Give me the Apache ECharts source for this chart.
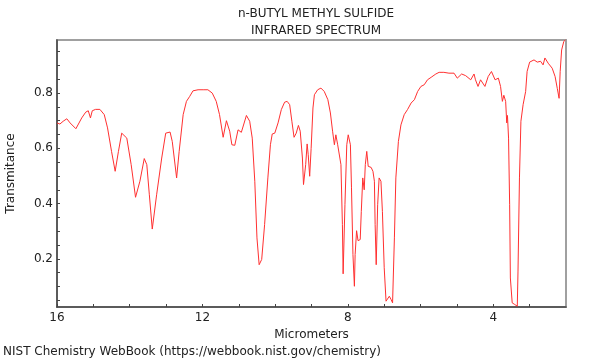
<!DOCTYPE html>
<html>
<head>
<meta charset="utf-8">
<script src="https://cdn.jsdelivr.net/npm/echarts@6/dist/echarts.min.js"></script>
<style>html,body{margin:0;padding:0;background:#fff}#c{width:600px;height:360px}</style>
</head>
<body>
<div id="c"></div>
<script>
const titleLines = ['n-BUTYL METHYL SULFIDE', 'INFRARED SPECTRUM'];
const xName = 'Micrometers';
const yName = 'Transmitance';
const footer = 'NIST Chemistry WebBook (https://webbook.nist.gov/chemistry)';

const xLabelValues = [16, 12, 8, 4];
const xTickValues = [3, 4, 5, 6, 7, 8, 9, 10, 11, 12, 13, 14, 15, 16];
const yLabelValues = [0.2, 0.4, 0.6, 0.8];
const yTickValues = [0.05, 0.1, 0.15, 0.2, 0.25, 0.3, 0.35, 0.4, 0.45, 0.5, 0.55, 0.6, 0.65, 0.7, 0.75, 0.8, 0.85, 0.9, 0.95];

const wavelength = [
16.00,15.92,15.83,15.73,15.64,15.48,15.32,15.21,15.14,15.08,15.03,14.94,14.82,14.70,14.61,14.50,14.40,14.31,14.22,14.18,
14.08,13.96,13.84,13.72,13.60,13.53,13.46,13.38,13.26,13.12,13.01,12.89,12.83,12.71,12.64,12.53,12.44,12.35,12.26,12.12,
11.98,11.85,11.73,11.62,11.53,11.43,11.34,11.30,11.25,11.19,11.11,11.02,10.93,10.79,10.70,10.63,10.56,10.50,10.44,10.37,
10.29,10.20,10.13,10.08,10.01,9.92,9.83,9.74,9.67,9.60,9.54,9.48,9.42,9.36,9.31,9.25,9.22,9.16,9.12,9.09,
9.05,9.01,8.96,8.92,8.83,8.74,8.65,8.55,8.48,8.42,8.37,8.33,8.28,8.23,8.19,8.15,8.13,8.08,8.03,7.99,
7.93,7.90,7.86,7.82,7.80,7.76,7.72,7.66,7.63,7.59,7.55,7.52,7.48,7.44,7.36,7.31,7.27,7.25,7.22,7.18,
7.14,7.09,7.05,7.00,6.95,6.91,6.86,6.81,6.77,6.72,6.68,6.61,6.54,6.45,6.36,6.26,6.17,6.08,5.99,5.90,
5.81,5.71,5.58,5.49,5.36,5.22,5.08,4.99,4.87,4.76,4.62,4.53,4.49,4.42,4.35,4.23,4.14,4.05,3.95,3.86,
3.80,3.75,3.71,3.66,3.63,3.61,3.58,3.55,3.53,3.48,3.41,3.34,3.32,3.28,3.24,3.18,3.11,3.07,3.00,2.88,
2.79,2.70,2.63,2.58,2.49,2.38,2.30,2.24,2.19,2.16,2.12,2.06,2.01
];
const transmittance = [
0.692,0.688,0.698,0.707,0.692,0.671,0.710,0.731,0.736,0.710,0.736,0.741,0.741,0.722,0.674,0.589,0.517,0.589,0.655,0.662,
0.637,0.541,0.423,0.481,0.563,0.541,0.432,0.308,0.432,0.565,0.655,0.659,0.625,0.493,0.589,0.722,0.770,0.788,0.808,0.812,
0.812,0.812,0.800,0.770,0.722,0.640,0.700,0.698,0.662,0.613,0.611,0.667,0.658,0.719,0.698,0.637,0.481,0.276,0.179,0.198,
0.324,0.493,0.613,0.652,0.655,0.692,0.740,0.767,0.770,0.758,0.698,0.640,0.655,0.683,0.662,0.565,0.469,0.541,0.616,0.577,
0.499,0.600,0.746,0.794,0.812,0.818,0.806,0.776,0.728,0.662,0.613,0.649,0.613,0.613,0.541,0.324,0.146,0.396,0.613,0.649,
0.613,0.457,0.216,0.101,0.216,0.302,0.266,0.270,0.372,0.493,0.450,0.541,0.589,0.535,0.531,0.517,0.481,0.324,0.179,0.396,
0.493,0.481,0.372,0.168,0.047,0.047,0.065,0.053,0.041,0.276,0.493,0.625,0.685,0.722,0.740,0.764,0.776,0.806,0.824,0.830,
0.848,0.857,0.869,0.875,0.875,0.872,0.872,0.854,0.869,0.863,0.848,0.869,0.848,0.824,0.848,0.824,0.860,0.878,0.848,0.854,
0.824,0.770,0.792,0.770,0.692,0.719,0.637,0.396,0.131,0.041,0.035,0.029,0.156,0.493,0.698,0.758,0.806,0.878,0.912,0.920,
0.912,0.915,0.902,0.927,0.908,0.890,0.860,0.817,0.781,0.878,0.956,0.987,0.993
];

const FONT = 'DejaVu Sans';
const chart = echarts.init(document.getElementById('c'), null, {renderer: 'canvas'});
chart.setOption({
  animation: false,
  backgroundColor: '#fff',
  textStyle: {fontFamily: FONT},
  title: {
    text: titleLines.join('\n'),
    left: 311, textAlign: 'center', top: 0,
    textStyle: {fontFamily: FONT, fontSize: 12, fontWeight: 'normal', color: '#222', lineHeight: 17}
  },
  grid: {left: 57, right: 34, top: 40, bottom: 53, outerBoundsMode: 'none', containLabel: false,
    show: true, borderColor: '#a0a0a0', borderWidth: 2, backgroundColor: 'transparent'},
  xAxis: {
    type: 'value', inverse: true, min: 2, max: 16,
    name: xName, nameLocation: 'middle', nameGap: 17,
    nameTextStyle: {fontFamily: FONT, fontSize: 12, color: '#222'},
    axisLine: {show: true, onZero: false, lineStyle: {color: '#444', width: 1.5}},
    axisTick: {show: true, inside: true, length: 3, customValues: xTickValues, lineStyle: {color: '#444'}},
    axisLabel: {customValues: xLabelValues, margin: 5, fontFamily: FONT, fontSize: 12, color: '#222'},
    splitLine: {show: false}
  },
  yAxis: {
    type: 'value', min: 0.026, max: 0.992,
    name: yName, nameLocation: 'middle', nameGap: 40,
    nameTextStyle: {fontFamily: FONT, fontSize: 12, color: '#222'},
    axisLine: {show: true, onZero: false, lineStyle: {color: '#444', width: 1.5}},
    axisTick: {show: true, inside: true, length: 3, customValues: yTickValues, lineStyle: {color: '#444'}},
    axisLabel: {customValues: yLabelValues, margin: 4, fontFamily: FONT, fontSize: 12, color: '#222',
      formatter: v => v.toFixed(1)},
    splitLine: {show: false}
  },
  graphic: [{
    type: 'text', left: 3, top: 346,
    style: {text: footer, fontFamily: FONT, fontSize: 12, fill: '#222'}
  }],
  series: [{
    type: 'line',
    data: wavelength.map((w, i) => [w, transmittance[i]]),
    showSymbol: false,
    clip: true,
    lineStyle: {color: '#ff3030', width: 1},
    itemStyle: {color: '#ff3030'}
  }]
});
</script>
</body>
</html>
